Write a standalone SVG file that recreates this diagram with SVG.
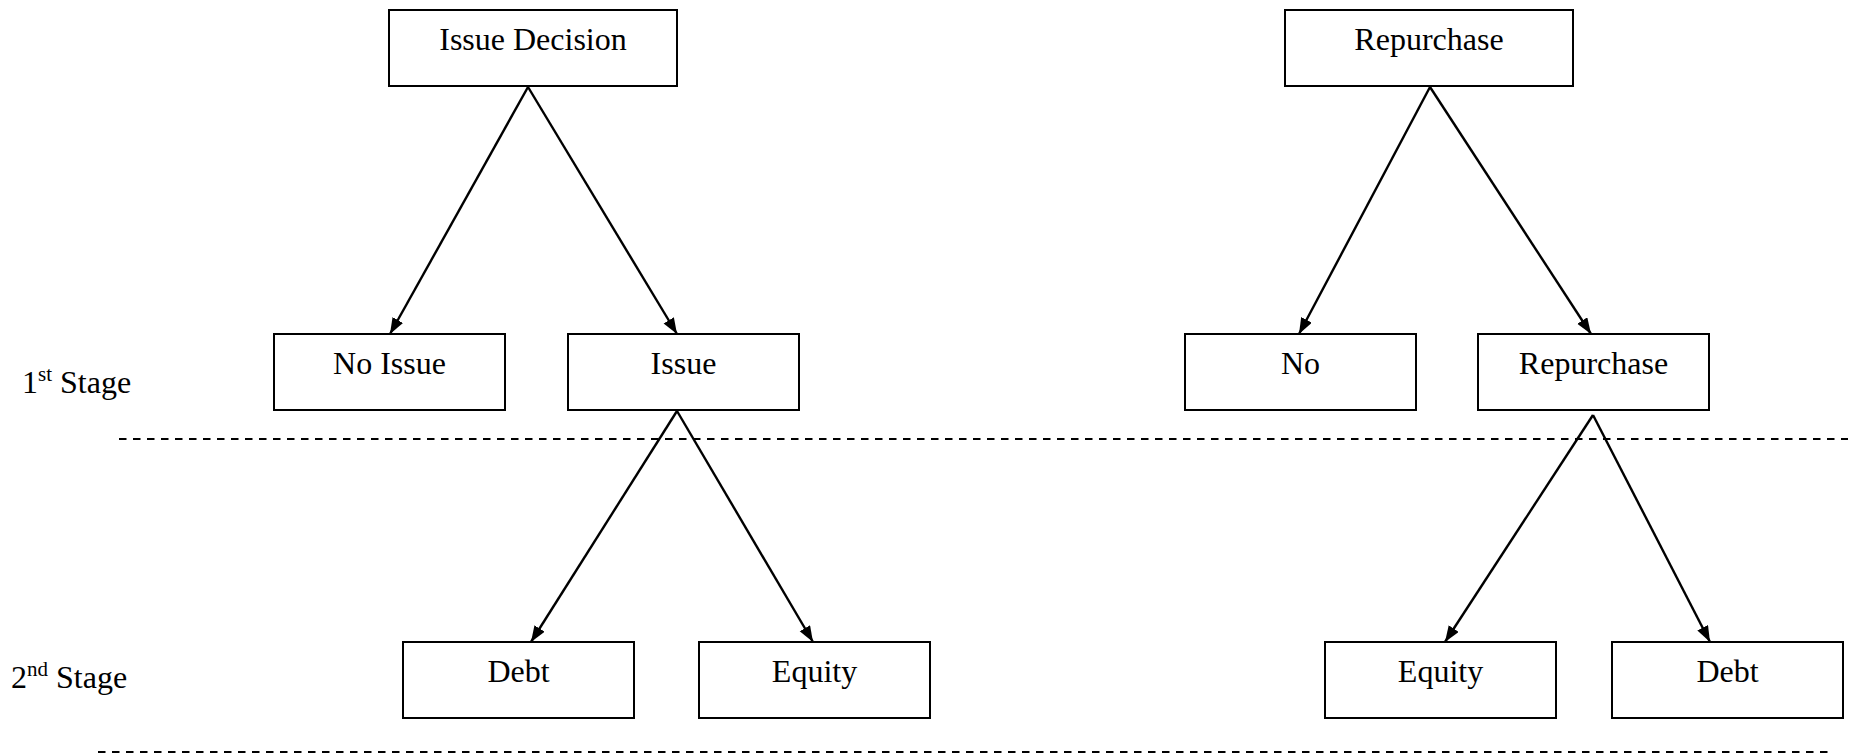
<svg xmlns="http://www.w3.org/2000/svg" width="1855" height="755" viewBox="0 0 1855 755">
<style>
  .box { fill: #fff; stroke: #000; stroke-width: 2; }
  .lbl { font-family: "Liberation Serif", "Times New Roman", serif; font-size: 32px; fill: #000; text-anchor: middle; }
  .stage { font-family: "Liberation Serif", "Times New Roman", serif; font-size: 32px; fill: #000; }
  .sup { font-size: 21px; }
  .conn { stroke: #000; stroke-width: 2.4; fill: none; marker-end: url(#arr); }
  .dash { stroke: #000; stroke-width: 2; stroke-dasharray: 7.5 6.5; fill: none; }
</style>
<defs>
  <marker id="arr" markerUnits="userSpaceOnUse" markerWidth="17" markerHeight="13" refX="16" refY="6" orient="auto">
    <path d="M0,0 L16,6 L0,12 z" fill="#000"/>
  </marker>
</defs>
<rect width="1855" height="755" fill="#fff"/>

<g id="separators">
  <line class="dash" x1="119" y1="439" x2="1848" y2="439"/>
  <line class="dash" x1="98" y1="752" x2="1828" y2="752"/>
</g>

<g id="stage-labels">
  <text class="stage" x="22" y="393">1<tspan class="sup" dy="-12">st</tspan><tspan dy="12"> Stage</tspan></text>
  <text class="stage" x="11" y="688">2<tspan class="sup" dy="-12">nd</tspan><tspan dy="12"> Stage</tspan></text>
</g>

<g id="connectors">
  <line class="conn" x1="528" y1="87" x2="390" y2="334"/>
  <line class="conn" x1="528" y1="87" x2="677" y2="334"/>
  <line class="conn" x1="1430" y1="87" x2="1299" y2="334"/>
  <line class="conn" x1="1430" y1="87" x2="1591" y2="334"/>
  <line class="conn" x1="677" y1="411" x2="531" y2="642"/>
  <line class="conn" x1="677" y1="411" x2="813" y2="642"/>
  <line class="conn" x1="1593" y1="415" x2="1445" y2="642"/>
  <line class="conn" x1="1593" y1="415" x2="1710" y2="642"/>
</g>

<g id="issue-decision"><rect class="box" x="389" y="10" width="288" height="76"/><text class="lbl" x="533" y="50">Issue Decision</text></g>
<g id="repurchase-top"><rect class="box" x="1285" y="10" width="288" height="76"/><text class="lbl" x="1429" y="50">Repurchase</text></g>

<g id="no-issue"><rect class="box" x="274" y="334" width="231" height="76"/><text class="lbl" x="389.5" y="374">No Issue</text></g>
<g id="issue"><rect class="box" x="568" y="334" width="231" height="76"/><text class="lbl" x="683.5" y="374">Issue</text></g>
<g id="no"><rect class="box" x="1185" y="334" width="231" height="76"/><text class="lbl" x="1300.5" y="374">No</text></g>
<g id="repurchase"><rect class="box" x="1478" y="334" width="231" height="76"/><text class="lbl" x="1593.5" y="374">Repurchase</text></g>

<g id="debt-left"><rect class="box" x="403" y="642" width="231" height="76"/><text class="lbl" x="518.5" y="682">Debt</text></g>
<g id="equity-left"><rect class="box" x="699" y="642" width="231" height="76"/><text class="lbl" x="814.5" y="682">Equity</text></g>
<g id="equity-right"><rect class="box" x="1325" y="642" width="231" height="76"/><text class="lbl" x="1440.5" y="682">Equity</text></g>
<g id="debt-right"><rect class="box" x="1612" y="642" width="231" height="76"/><text class="lbl" x="1727.5" y="682">Debt</text></g>
</svg>
